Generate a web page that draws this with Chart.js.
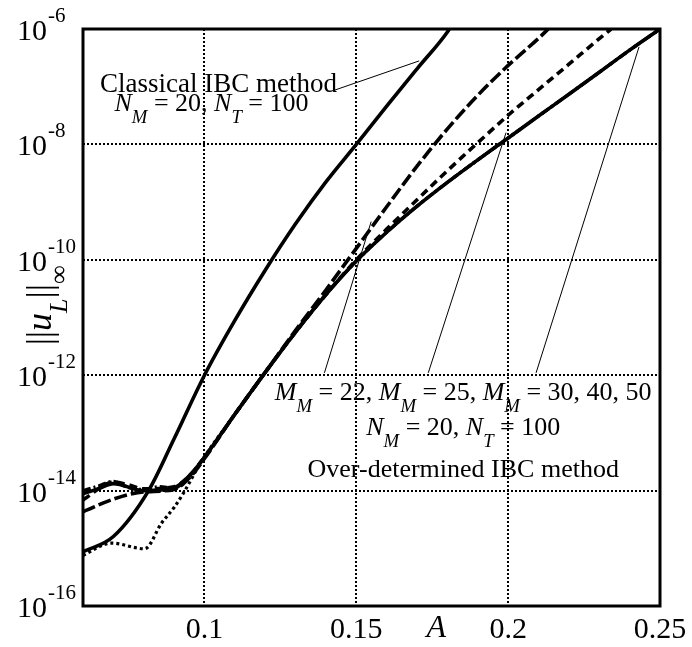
<!DOCTYPE html>
<html>
<head>
<meta charset="utf-8">
<script src="https://cdn.jsdelivr.net/npm/chart.js@4.4.0/dist/chart.umd.min.js"></script>
<style>
  body { margin: 0; background: #fff; }
  #wrap { width: 692px; height: 647px; }
</style>
</head>
<body>
<div id="wrap"><canvas id="chart" width="692" height="647"></canvas></div>
<script>
// values (A vs ||u_L||_inf)
const classicalA   = [0.06, 0.07, 0.0816, 0.09, 0.1, 0.11, 0.12, 0.13, 0.14, 0.15, 0.16, 0.17, 0.18, 0.1806];
const classicalErr = [8.7e-16, 1.6e-15, 1.0e-14, 7.9e-14, 1.0e-12, 8.9e-12, 6.6e-11, 4.2e-10, 2.24e-9, 1.0e-8, 4.6e-8, 2.04e-7, 8.9e-7, 1.0e-6];

const mm22A   = [0.06, 0.07, 0.08, 0.09, 0.095, 0.1, 0.11, 0.12, 0.13, 0.14, 0.15, 0.16, 0.17, 0.18, 0.19, 0.2, 0.21, 0.2132];
const mm22Err = [4.3e-15, 7.1e-15, 9.5e-15, 1.05e-14, 1.66e-14, 3.6e-14, 2.1e-13, 1.12e-12, 6.0e-12, 3.0e-11, 1.58e-10, 8.3e-10, 4.2e-9, 1.86e-8, 7.1e-8, 2.34e-7, 6.9e-7, 1.0e-6];

const mm25A   = [0.06, 0.07, 0.075, 0.08, 0.09, 0.095, 0.1, 0.11, 0.12, 0.13, 0.14, 0.15, 0.16, 0.17, 0.18, 0.19, 0.2, 0.21, 0.22, 0.23, 0.2339];
const mm25Err = [6.9e-15, 1.4e-14, 1.26e-14, 1.07e-14, 1.17e-14, 1.8e-14, 3.8e-14, 2.1e-13, 1.12e-12, 5.6e-12, 2.5e-11, 1.0e-10, 3.4e-10, 1.1e-9, 3.5e-9, 1.07e-8, 3.2e-8, 8.9e-8, 2.45e-7, 6.8e-7, 1.0e-6];

const mm30A   = [0.06, 0.065, 0.07, 0.08, 0.09, 0.095, 0.1, 0.11, 0.12, 0.13, 0.14, 0.15, 0.16, 0.17, 0.18, 0.19, 0.2, 0.21, 0.22, 0.23, 0.24, 0.25];
const mm30Err = [8.9e-15, 1.07e-14, 1.32e-14, 1.0e-14, 1.12e-14, 1.8e-14, 3.8e-14, 2.1e-13, 1.12e-12, 5.6e-12, 2.5e-11, 9.5e-11, 3.0e-10, 8.5e-10, 2.2e-9, 5.4e-9, 1.29e-8, 3.1e-8, 7.4e-8, 1.78e-7, 4.3e-7, 1.0e-6];

const mm40A   = [0.06, 0.065, 0.07, 0.075, 0.08, 0.085, 0.09, 0.095, 0.1, 0.11, 0.12, 0.13, 0.14, 0.15, 0.16, 0.17, 0.18, 0.19, 0.2, 0.21, 0.22, 0.23, 0.24, 0.25];
const mm40Err = [1.0e-14, 1.2e-14, 1.45e-14, 1.12e-14, 1.05e-14, 1.17e-14, 1.1e-14, 1.82e-14, 3.8e-14, 2.1e-13, 1.12e-12, 5.6e-12, 2.5e-11, 9.5e-11, 3.0e-10, 8.5e-10, 2.2e-9, 5.4e-9, 1.29e-8, 3.1e-8, 7.4e-8, 1.78e-7, 4.3e-7, 1.0e-6];

const mm50A   = [0.06, 0.0694, 0.0803, 0.0859, 0.0901, 0.0931, 0.099, 0.11, 0.12, 0.13, 0.14, 0.15, 0.16, 0.17, 0.18, 0.19, 0.2, 0.21, 0.22, 0.23, 0.24, 0.25];
const mm50Err = [7.6e-16, 1.23e-15, 9.8e-16, 2.75e-15, 5.2e-15, 9.1e-15, 3.2e-14, 2.1e-13, 1.12e-12, 5.6e-12, 2.5e-11, 9.5e-11, 3.0e-10, 8.5e-10, 2.2e-9, 5.4e-9, 1.29e-8, 3.1e-8, 7.4e-8, 1.78e-7, 4.3e-7, 1.0e-6];

const xTicks = [0.1, 0.15, 0.2, 0.25];
const xTickLabels = ['0.1', '0.15', '0.2', '0.25'];
const yTicks = [1e-16, 1e-14, 1e-12, 1e-10, 1e-8, 1e-6];
const yTickExps = ['-16', '-14', '-12', '-10', '-8', '-6'];
const gridX = [0.1, 0.15, 0.2];
const gridY = [1e-14, 1e-12, 1e-10, 1e-8];

// annotation anchors, in data units
const leaders = [
    [[0.1428, 8.7e-8], [0.1707, 2.8e-7]],
    [[0.1395, 1.1e-12], [0.1549, 4.6e-10]],
    [[0.1737, 1.1e-12], [0.1993, 1.6e-8]],
    [[0.2092, 1.1e-12], [0.2431, 4.9e-7]]
];
const classicalNote = [0.1046, 8.1e-8, 0.1023, 3.8e-8];
const overNote = [0.1852, 3.7e-13, 9.1e-14, 1.74e-14];
const xTitleAt = 0.1763;

const serif = '"Liberation Serif", "Times New Roman", serif';

function pts(xs, ys) {
    return xs.map((x, i) => ({ x: x, y: ys[i] }));
}

function segFont(s, base) {
    const size = s[2] ? base * 0.72 : base;
    return (s[1] ? 'italic ' : '') + size + 'px ' + serif;
}

// draws a line of text with italic parts and subscripts, centred on cx
function drawRich(ctx, segs, cx, y, base) {
    let w = 0;
    segs.forEach(s => { ctx.font = segFont(s, base); w += ctx.measureText(s[0]).width; });
    let x = cx - w / 2;
    ctx.textAlign = 'left';
    ctx.textBaseline = 'alphabetic';
    segs.forEach(s => {
        ctx.font = segFont(s, base);
        ctx.fillText(s[0], x, s[2] ? y + base * 0.45 : y);
        x += ctx.measureText(s[0]).width;
    });
}

const decorPlugin = {
    id: 'decor',
    afterDatasetsDraw(chart) {
        const ctx = chart.ctx;
        const xs = chart.scales.x, ys = chart.scales.y;
        const a = chart.chartArea;
        ctx.save();
        ctx.fillStyle = '#000';
        ctx.strokeStyle = '#000';

        // leader lines
        ctx.lineWidth = 1;
        leaders.forEach(l => {
            ctx.beginPath();
            ctx.moveTo(xs.getPixelForValue(l[0][0]), ys.getPixelForValue(l[0][1]));
            ctx.lineTo(xs.getPixelForValue(l[1][0]), ys.getPixelForValue(l[1][1]));
            ctx.stroke();
        });

        // frame
        ctx.lineWidth = 3;
        ctx.strokeRect(a.left, a.top, a.right - a.left, a.bottom - a.top);

        // annotations
        ctx.font = '27px ' + serif;
        ctx.textAlign = 'center';
        ctx.fillText('Classical IBC method', xs.getPixelForValue(classicalNote[0]), ys.getPixelForValue(classicalNote[1]));
        drawRich(ctx, [['N', 1], ['M', 1, 1], [' = 20, '], ['N', 1], ['T', 1, 1], [' = 100']],
            xs.getPixelForValue(classicalNote[2]), ys.getPixelForValue(classicalNote[3]), 26);

        const ox = xs.getPixelForValue(overNote[0]);
        drawRich(ctx, [['M', 1], ['M', 1, 1], [' = 22, '], ['M', 1], ['M', 1, 1], [' = 25, '], ['M', 1], ['M', 1, 1], [' = 30, 40, 50']],
            ox, ys.getPixelForValue(overNote[1]), 26);
        drawRich(ctx, [['N', 1], ['M', 1, 1], [' = 20, '], ['N', 1], ['T', 1, 1], [' = 100']],
            ox, ys.getPixelForValue(overNote[2]), 26);
        drawRich(ctx, [['Over-determined IBC method']], ox, ys.getPixelForValue(overNote[3]), 26);

        // y tick labels with superscript exponents
        yTicks.forEach((v, i) => {
            const py = ys.getPixelForValue(v);
            ctx.textAlign = 'left';
            ctx.font = '30px ' + serif;
            ctx.fillText('10', 17, py + 11);
            const w = ctx.measureText('10').width;
            ctx.font = '21px ' + serif;
            ctx.fillText(yTickExps[i], 17 + w + 1, py - 7);
        });

        // x tick labels
        ctx.textAlign = 'center';
        ctx.font = '30px ' + serif;
        xTicks.forEach((v, i) => {
            ctx.fillText(xTickLabels[i], xs.getPixelForValue(v), a.bottom + 32);
        });
        ctx.font = 'italic 32px ' + serif;
        ctx.fillText('A', xs.getPixelForValue(xTitleAt), a.bottom + 31);

        // y axis title ||u_L||_inf
        ctx.translate(51, (a.top + a.bottom) / 2 - 12);
        ctx.rotate(-Math.PI / 2);
        drawRich(ctx, [['||'], ['u', 1], ['L', 1, 1], ['||'], ['\u221E', 0, 1]], 0, 0, 36);
        ctx.restore();
    }
};

function ds(label, xs, ys, dash, width) {
    return {
        label: label,
        data: pts(xs, ys),
        borderColor: '#000',
        borderWidth: width,
        borderDash: dash,
        pointRadius: 0,
        fill: false,
        cubicInterpolationMode: 'monotone'
    };
}

new Chart(document.getElementById('chart'), {
    type: 'line',
    data: {
        datasets: [
            ds('Classical IBC, N_M = 20, N_T = 100', classicalA, classicalErr, [], 3.6),
            ds('M_M = 22', mm22A, mm22Err, [13, 4], 3.6),
            ds('M_M = 25', mm25A, mm25Err, [8, 5], 3.6),
            ds('M_M = 30', mm30A, mm30Err, [], 3.6),
            ds('M_M = 40', mm40A, mm40Err, [8, 3, 2, 3], 3.2),
            ds('M_M = 50', mm50A, mm50Err, [3, 3], 3.2)
        ]
    },
    options: {
        responsive: false,
        animation: false,
        layout: { padding: { left: 83, right: 32, top: 29, bottom: 41 } },
        plugins: { legend: { display: false }, tooltip: { enabled: false } },
        scales: {
            x: {
                type: 'linear',
                min: 0.06,
                max: 0.25,
                afterBuildTicks: s => { s.ticks = gridX.map(v => ({ value: v })); },
                ticks: { display: false },
                grid: { color: '#000', lineWidth: 2, drawTicks: false },
                border: { display: false, dash: [2, 2] }
            },
            y: {
                type: 'logarithmic',
                min: 1e-16,
                max: 1e-6,
                afterBuildTicks: s => { s.ticks = gridY.map(v => ({ value: v })); },
                ticks: { display: false },
                grid: { color: '#000', lineWidth: 2, drawTicks: false },
                border: { display: false, dash: [2, 2] }
            }
        }
    },
    plugins: [decorPlugin]
});
</script>
</body>
</html>
